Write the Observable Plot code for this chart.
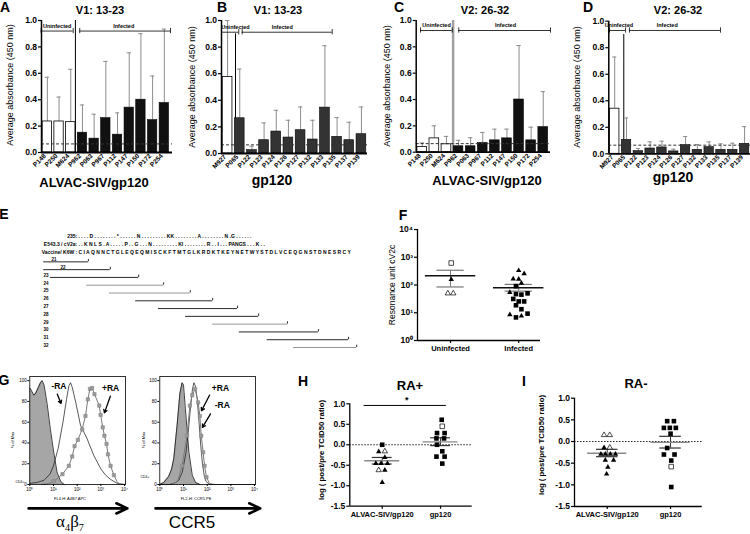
<!DOCTYPE html>
<html><head><meta charset="utf-8">
<script src="https://cdn.jsdelivr.net/npm/d3@7"></script>
<script src="https://cdn.jsdelivr.net/npm/@observablehq/plot@0.6"></script>
<style>
body{margin:0;background:#fff;}
#fig{position:relative;width:750px;height:534px;overflow:hidden;background:#fff;font-family:"Liberation Sans",Arial,sans-serif;}
#fig svg{position:absolute;overflow:visible;}
.lbl{position:absolute;white-space:nowrap;line-height:1;}
</style></head><body><div id="fig"></div>
<script>
// ---------------- DATA ----------------
// Panels A-D (ELISA bars)
const namesA = ["P148","P250","M624","P962","P063","P967","P112","P147","P150","P172","P254"];
const valuesA = [0.235,0.235,0.23,0.15,0.105,0.26,0.135,0.34,0.40,0.245,0.375];
const errA    = [0.57,0.42,0.63,0.36,0.29,0.69,0.30,0.755,0.90,0.58,0.935];
const namesB = ["M927","P065","P122","P123","P124","P126","P127","P132","P133","P135","P137","P139"];
const valuesB = [0.575,0.265,0.025,0.10,0.165,0.12,0.175,0.105,0.345,0.125,0.10,0.145];
const errB    = [1.0,0.635,0.055,0.23,0.325,0.25,0.35,0.25,0.81,0.27,0.235,0.35];
const namesC = ["P148","P250","M624","P962","P063","P967","P112","P147","P150","P172","P254"];
const valuesC = [0.04,0.105,0.06,0.045,0.045,0.07,0.09,0.105,0.40,0.09,0.19];
const errC    = [0.07,0.20,0.12,0.09,0.11,0.15,0.175,0.175,0.81,0.19,0.46];
const namesD = ["M927","P065","P122","P123","P124","P126","P127","P132","P133","P135","P137","P139"];
const valuesD = [0.34,0.105,0.02,0.04,0.048,0.018,0.065,0.03,0.05,0.03,0.03,0.075];
const errD    = [0.73,0.27,0.04,0.09,0.095,0.035,0.13,0.07,0.09,0.075,0.08,0.205];
const cutoff = 0.065;
const yTicksBar = [0,0.2,0.4,0.6,0.8,1.0];
const bracketsA = [{label:"Uninfected",from:-0.53,to:2.21,mid:0.84,level:0.92},{label:"Infected",from:2.77,to:10.53,mid:6.53,level:0.92}];
const bracketsB = [{label:"Uninfected",from:-0.5,to:0.92,mid:0.65,level:0.912},{label:"Infected",from:1.2,to:8.6,mid:4.49,level:0.912}];
const bracketsC = [{label:"Uninfected",from:-0.14,to:2.48,mid:1.18,level:0.924},{label:"Infected",from:3.02,to:10.6,mid:6.88,level:0.924}];
const bracketsD = [{label:"Uninfected",from:-0.44,to:0.92,mid:0.35,level:0.93},{label:"Infected",from:1.25,to:8.96,mid:4.45,level:0.93}];

// Panel E (peptide map)
const eSeqLabels = ["235:","E543.3 / cV2a:","Vaccine/ K6W :"];
const eSeqs = [
 ". . . . D . . . . . . . . * . . . . . . N . . . . . . . . . KK . . . . . . . . A . . . . . . . . N .G . . . . . .",
 ". . K N L S . A . . . . . P . . G . . . N . . . . . . . . . KI . . . . . . . . R . . I . . . PANGS . . . K . .",
 "C I A Q N N C T G L E Q E Q M I S C K F T M T G L K R D K T K E Y N E T W Y S T D L V C E Q G N S T D N E S R C Y"
];
const pepIds   = [21,22,23,24,25,26,27,28,29,30,31,32];
const pepStart = [-8.1,-8.1,-6.5,1.9,7.2,13.3,18.6,24.9,31.2,37.4,43.9,50.0];
const pepEnd   = [2.3,7.4,14.0,19.8,26.0,31.2,37.0,41.9,48.6,55.8,62.8,64.7];

// Panel F (resonance units)
const fCats = ["Uninfected","Infected"];
const fUninfVals = [620,160,50,50];
const fUninfSym  = ["osq","tri","otri","otri"];
const fUninfOff  = [0.01,0.01,-0.04,0.04];
const fInfVals = [333,257,166,162,117,54,8.5,7.6,91,47,45,50,31.5,25.6,25.6,18.6,13.4,9.3,6.8];
const fInfSym  = ["tri","tri","tri","tri","tri","tri","tri","tri","sq","sq","sq","sq","sq","sq","sq","sq","sq","sq","sq"];
const fInfOff  = [0,0.08,-0.08,0,0.04,-0.13,-0.13,0.04,-0.04,-0.04,0.04,0.13,-0.08,0,0.08,-0.04,0.04,0.13,-0.04];
const fMean = [215,80], fSemHi = [340,105], fSemLo = [85,60];
const fTicks = [1,10,100,1000,10000];

// Panel G (flow histograms) [log10 fluorescence, % of max]
const gLeftControl = [[0,93],[0.08,90],[0.17,86],[0.25,88],[0.35,93],[0.45,98],[0.52,100],[0.6,96],[0.73,78],[0.87,53],[1.01,31],[1.15,12],[1.3,3],[1.45,0]];
const gLeftMinus = [[0,1],[0.3,2],[0.6,4],[0.85,10],[1.0,18],[1.2,35],[1.4,60],[1.55,82],[1.65,95],[1.72,98],[1.8,93],[1.95,78],[2.14,57],[2.42,44],[2.7,28],[3.0,15],[3.2,9],[3.4,5],[3.7,1],[4.04,0]];
const gLeftPlus = [[0.5,0],[0.8,1],[1.01,3],[1.38,10],[1.65,18],[1.79,27],[1.89,37],[2.03,43],[2.21,53],[2.35,66],[2.45,82],[2.54,92],[2.63,93],[2.73,87],[2.93,76],[2.99,67],[3.08,55],[3.15,47],[3.24,39],[3.30,29],[3.41,18],[3.55,9],[3.7,2],[3.85,0],[4.04,0]];
const gRightControl = [[0,0],[0.17,2],[0.38,8],[0.5,15],[0.59,25],[0.73,57],[0.85,88],[0.94,98],[1.0,96],[1.08,73],[1.23,31],[1.37,9],[1.51,2],[1.7,0]];
const gRightMinus = [[0,0],[0.4,0],[0.6,1],[0.8,4],[0.95,12],[1.1,30],[1.2,50],[1.3,75],[1.38,92],[1.44,98],[1.5,95],[1.58,82],[1.65,62],[1.72,40],[1.8,20],[1.88,8],[1.95,3],[2.1,0],[4.04,0]];
const gRightPlus = [[0.5,0],[0.75,3],[0.94,18],[1.15,47],[1.27,76],[1.37,86],[1.49,92],[1.62,79],[1.69,66],[1.75,47],[1.83,31],[1.89,18],[1.97,7],[2.1,1],[2.3,0],[4.04,0]];
const gLeftNotes = [{t:"-RA",x:1.23,y:95},{t:"+RA",x:3.41,y:93}];
const gLeftPointers = [{x1:1.16,y1:87,x2:1.32,y2:78},{x1:3.4,y1:85,x2:3.15,y2:69}];
const gRightNotes = [{t:"+RA",x:2.56,y:93},{t:"-RA",x:2.64,y:76}];
const gRightPointers = [{x1:2.1,y1:86,x2:1.76,y2:71},{x1:2.14,y1:68,x2:1.8,y2:55}];
const gYTicks = [0,20,40,60,80,100];
const gXTicks = [0,1,2,3,4];

// Panels H and I (log post/pre TCID50 ratio)
const hiCats = ["ALVAC-SIV/gp120","gp120"];
const hAlvacVals = [0.0,-0.17,-0.16,-0.31,-0.455,-0.455,-0.455,-0.62,-0.62,-0.92];
const hAlvacSym  = ["sq","tri","otri","tri","tri","tri","tri","otri","tri","tri"];
const hAlvacOff  = [0,-0.06,0.045,0.045,-0.11,-0.02,0.09,-0.06,0.045,0];
const hGpVals = [0.61,0.45,0.285,0.285,0.155,0.155,0.0,-0.16,-0.29,-0.29,-0.46];
const hGpSym  = ["sq","osq","sq","sq","sq","sq","sq","sq","sq","sq","sq"];
const hGpOff  = [0.02,0.03,-0.06,0.07,-0.07,0.06,-0.06,0.03,-0.07,0.07,0.03];
const hMean = [-0.39,0.07], hSemHi = [-0.31,0.17], hSemLo = [-0.47,-0.02];
const hSig = [{x1:-0.31,x2:1.10,y:0.96,label:"*",lx:0.42,ly:1.08}];
const iAlvacVals = [0.15,0.15,-0.14,-0.14,-0.29,-0.29,-0.29,-0.29,-0.43,-0.43,-0.59,-0.75];
const iAlvacSym  = ["otri","otri","tri","otri","tri","tri","tri","tri","tri","tri","tri","tri"];
const iAlvacOff  = [-0.05,0.04,-0.05,0.04,-0.1,-0.03,0.05,0.13,-0.03,0.1,0.01,-0.01];
const iGpVals = [0.47,0.47,0.315,0.315,0.315,0.18,-0.15,-0.30,-0.30,-0.44,-0.58,-1.05];
const iGpSym  = ["sq","sq","sq","sq","sq","sq","sq","sq","sq","sq","osq","sq"];
const iGpOff  = [-0.053,0.053,-0.105,-0.011,0.084,0,-0.053,-0.105,0.063,0.011,0.011,0.011];
const iMean = [-0.27,-0.02], iSemHi = [-0.18,0.12], iSemLo = [-0.35,-0.15];
const hiTicks = [-1.5,-1.0,-0.5,0,0.5,1.0];

// ---------------- RENDER ----------------
const FONT = '"Liberation Sans", Arial, sans-serif';
const fig = document.getElementById("fig");
function place(svg, left, top) { svg.style.left = left + "px"; svg.style.top = top + "px"; fig.appendChild(svg); return svg; }
function label(text, x, y, o = {}) {
  const d = document.createElement("div");
  d.className = "lbl";
  if (o.html) d.innerHTML = text; else d.textContent = text;
  Object.assign(d.style, {left: x + "px", top: y + "px", fontSize: (o.size || 9) + "px",
    fontWeight: o.weight || "normal", fontFamily: o.family || FONT,
    transform: `translate(-50%,-50%) rotate(${o.rotate || 0}deg)`});
  fig.appendChild(d);
}
const sup = n => "10" + "⁰¹²³⁴"[n];

function barPanel(c) {
  const rows = c.names.map((n, i) => ({n, i, v: c.values[i], e: c.errs[i]}));
  const open = rows.slice(0, c.nUninf), filled = rows.slice(c.nUninf);
  const ends = c.brackets.flatMap(b => [{x: b.from, y: b.level}, {x: b.to, y: b.level}]);
  const bw = 0.4;
  const svg = Plot.plot({
    width: c.width, height: 195,
    marginLeft: c.mL, marginRight: c.mR, marginTop: c.mT, marginBottom: c.mB,
    x: {domain: c.xDomain, axis: null, label: null},
    y: {domain: [0, 1], label: null},
    style: {fontFamily: FONT, fontWeight: "bold", background: "transparent", overflow: "visible"},
    marks: [
      Plot.ruleX(c.sep, {y1: 0, y2: c.sepTop, stroke: c.sepColor, strokeWidth: c.sepWidth}),
      Plot.ruleX(rows, {x: "i", y1: "v", y2: "e", stroke: "#8c8c8c", strokeWidth: 1}),
      Plot.ruleY(rows, {y: "e", x1: d => d.i - 0.18, x2: d => d.i + 0.18, stroke: "#8c8c8c", strokeWidth: 1}),
      Plot.rect(open, {x1: d => d.i - bw, x2: d => d.i + bw, y1: 0, y2: "v", fill: "#fff", stroke: "#000", strokeWidth: 0.8}),
      Plot.rect(filled, {x1: d => d.i - bw, x2: d => d.i + bw, y1: 0, y2: "v", fill: c.fill, stroke: "#000", strokeWidth: 0.6}),
      Plot.ruleY([cutoff], {stroke: "#333", strokeDasharray: "3,2", strokeWidth: 1}),
      Plot.ruleY(c.brackets, {y: "level", x1: "from", x2: "to", strokeWidth: 0.8}),
      Plot.ruleX(ends, {x: "x", y1: d => d.y - 0.02, y2: d => d.y + 0.02, strokeWidth: 0.8}),
      Plot.text(c.brackets, {x: "mid", y: d => d.level + 0.04, text: "label", fontSize: 5.5, fontWeight: "bold"}),
      Plot.ruleX([c.xDomain[0]], {strokeWidth: 1.5}),
      Plot.ruleY([0], {strokeWidth: 1.8}),
      Plot.axisY({ticks: yTicksBar, tickFormat: d => d.toFixed(1), fontSize: 8.5, fontWeight: "bold", tickSize: 3, tickPadding: 1.5, strokeWidth: 1.2, label: null}),
      Plot.text(rows, {x: "i", text: "n", frameAnchor: "bottom", rotate: -45, textAnchor: "end", dx: -1, dy: 4, fontSize: 6.5, fontWeight: "bold"})
    ]
  });
  place(svg, c.left, 0);
}

barPanel({left: 0, width: 185, mL: 41, mR: 13, mT: 20, mB: 43, xDomain: [-0.5, 10.7],
  names: namesA, values: valuesA, errs: errA, nUninf: 3, fill: "#111",
  sep: [2.4], sepTop: 1.0, sepColor: "#000", sepWidth: 1, brackets: bracketsA});
barPanel({left: 185, width: 185, mL: 36, mR: 3, mT: 20, mB: 42, xDomain: [-0.5, 11.5],
  names: namesB, values: valuesB, errs: errB, nUninf: 1, fill: "#333",
  sep: [0.65], sepTop: 0.9, sepColor: "#000", sepWidth: 1, brackets: bracketsB});
barPanel({left: 370, width: 185, mL: 45.7, mR: 5, mT: 20, mB: 43.3, xDomain: [-0.5, 10.6],
  names: namesC, values: valuesC, errs: errC, nUninf: 3, fill: "#111",
  sep: [2.55], sepTop: 1.0, sepColor: "#a0a0a0", sepWidth: 2.5, brackets: bracketsC});
barPanel({left: 555, width: 195, mL: 53.3, mR: 0, mT: 20.7, mB: 41.7, xDomain: [-0.5, 11.5],
  names: namesD, values: valuesD, errs: errD, nUninf: 1, fill: "#333",
  sep: [0.77], sepTop: 0.9, sepColor: "#000", sepWidth: 1, brackets: bracketsD});

// Panel E
{
  const eRows = eSeqLabels.map((l, i) => ({row: i, label: l, seq: eSeqs[i]}));
  const peps = pepIds.map((id, k) => ({id, row: 3 + k, s: pepStart[k], e: pepEnd[k]}));
  const grayPeps = new Set([24, 25, 29, 32]);
  const labelX = d => d.id === 21 ? d.s + 2.4 : d.id === 22 ? d.s + 4.5 : -7.56;
  const svg = Plot.plot({
    width: 370, height: 130, marginLeft: 0, marginRight: 0, marginTop: 11, marginBottom: 10,
    x: {domain: [-18.14, 67.91], axis: null}, y: {domain: [14, 0], axis: null},
    style: {fontFamily: FONT, fontWeight: "bold", background: "transparent", overflow: "visible"},
    marks: [
      Plot.text(eRows, {x: -0.3, y: "row", text: "label", textAnchor: "end", fontSize: 5, fontWeight: "bold"}),
      Plot.text(eRows, {x: 0, y: "row", text: "seq", textAnchor: "start", fontSize: 5, fontWeight: "bold", ariaLabel: "seq"}),
      Plot.ruleY(peps.filter(d => !grayPeps.has(d.id)), {y: "row", x1: "s", x2: "e", dy: 2, stroke: "#111", strokeWidth: 0.9}),
      Plot.ruleY(peps.filter(d => grayPeps.has(d.id)), {y: "row", x1: "s", x2: "e", dy: 2, stroke: "#8a8a8a", strokeWidth: 0.9}),
      Plot.ruleX(peps, {x: "e", y1: d => d.row - 0.3, y2: "row", dy: 2, stroke: "#111", strokeWidth: 0.9}),
      Plot.text(peps, {x: labelX, y: "row", text: d => String(d.id), fontSize: 4.5, fontWeight: "bold"})
    ]
  });
  svg.querySelectorAll('g[aria-label="seq"] text').forEach(t => { t.setAttribute("textLength", 245); t.setAttribute("lengthAdjust", "spacingAndGlyphs"); });
  place(svg, 0, 225);
}

// Dot panels
function dotPanel(c) {
  const pts = c.groups.flatMap((g, ci) => g.vals.map((v, k) => ({x: ci + g.offs[k], v, sym: g.syms[k]})));
  const stats = c.mean.map((m, ci) => ({ci, m, hi: c.hi[ci], lo: c.lo[ci]}));
  const syms = [["tri", "triangle", "#000"], ["otri", "triangle", "#fff"], ["sq", "square", "#000"], ["osq", "square", "#fff"]];
  const svg = Plot.plot({
    width: c.width, height: c.height,
    marginLeft: c.mL, marginRight: c.mR, marginTop: c.mT, marginBottom: c.mB,
    x: {domain: c.xDomain, label: null},
    y: {type: c.yType || "linear", domain: c.yDomain, label: null},
    style: {fontFamily: FONT, fontWeight: "bold", background: "transparent", overflow: "visible"},
    marks: [
      ...(c.before || []),
      Plot.ruleX(stats, {x: "ci", y1: "lo", y2: "hi", stroke: c.semStroke, strokeWidth: 1}),
      Plot.ruleY(stats, {y: "hi", x1: d => d.ci - c.semHalf, x2: d => d.ci + c.semHalf, stroke: c.semStroke, strokeWidth: 1.2}),
      Plot.ruleY(stats, {y: "lo", x1: d => d.ci - c.semHalf, x2: d => d.ci + c.semHalf, stroke: c.semStroke, strokeWidth: 1.2}),
      Plot.ruleY(stats, {y: "m", x1: d => d.ci - c.meanHalf, x2: d => d.ci + c.meanHalf, stroke: c.meanStroke, strokeWidth: 1.4}),
      ...syms.map(([k, s, f]) => Plot.dot(pts.filter(p => p.sym === k), {x: "x", y: "v", symbol: s, fill: f, stroke: "#000",
        strokeWidth: f === "#fff" ? 0.7 : 0, r: s === "square" ? c.sqR : c.triR})),
      Plot.ruleX([c.xDomain[0]], {strokeWidth: 1.3}),
      Plot.ruleY([c.yDomain[0]], {strokeWidth: 1.3}),
      Plot.axisY({ticks: c.yTicks, tickFormat: c.yFormat, fontSize: c.yFont, fontWeight: "bold", tickSize: 3, tickPadding: 1.5, strokeWidth: 1.2, label: null}),
      Plot.axisX({ticks: [0, 1], tickFormat: i => c.cats[i], fontSize: c.xFont, fontWeight: "bold", tickSize: 3, tickPadding: 2, strokeWidth: 1.2, label: null}),
      ...(c.after || [])
    ]
  });
  place(svg, c.left, c.top);
}

dotPanel({left: 370, top: 200, width: 175, height: 160, mL: 47, mR: 5, mT: 29, mB: 20,
  xDomain: [-0.485, 1.32], yType: "log", yDomain: [1, 10000], yTicks: fTicks,
  yFormat: d => sup(Math.round(Math.log10(d))), yFont: 8.5, xFont: 7.5, cats: fCats,
  groups: [{vals: fUninfVals, syms: fUninfSym, offs: fUninfOff}, {vals: fInfVals, syms: fInfSym, offs: fInfOff}],
  mean: fMean, hi: fSemHi, lo: fSemLo, meanStroke: "#111", semStroke: "#777", meanHalf: 0.37, semHalf: 0.2, sqR: 2.6, triR: 2.0});

dotPanel({left: 290, top: 375, width: 230, height: 159, mL: 59.3, mR: 48.3, mT: 28.3, mB: 28.3,
  xDomain: [-0.556, 1.543], yDomain: [-1.5, 1.0], yTicks: hiTicks, yFormat: d => d.toFixed(1),
  yFont: 8.5, xFont: 7.5, cats: hiCats,
  groups: [{vals: hAlvacVals, syms: hAlvacSym, offs: hAlvacOff}, {vals: hGpVals, syms: hGpSym, offs: hGpOff}],
  mean: hMean, hi: hSemHi, lo: hSemLo, meanStroke: "#8a8a8a", semStroke: "#333", meanHalf: 0.3, semHalf: 0.17, sqR: 2.6, triR: 2.0,
  before: [Plot.ruleY([0], {strokeDasharray: "1.5,1.5", stroke: "#222"})],
  after: [Plot.ruleY(hSig, {y: "y", x1: "x1", x2: "x2", strokeWidth: 1}),
          Plot.text(hSig, {x: "lx", y: "ly", text: "label", fontSize: 9, fontWeight: "bold"})]});

dotPanel({left: 520, top: 375, width: 230, height: 159, mL: 54, mR: 48.3, mT: 22.7, mB: 28,
  xDomain: [-0.517, 1.5], yDomain: [-1.5, 1.0], yTicks: hiTicks, yFormat: d => d.toFixed(1),
  yFont: 8.5, xFont: 7.5, cats: hiCats,
  groups: [{vals: iAlvacVals, syms: iAlvacSym, offs: iAlvacOff}, {vals: iGpVals, syms: iGpSym, offs: iGpOff}],
  mean: iMean, hi: iSemHi, lo: iSemLo, meanStroke: "#8a8a8a", semStroke: "#333", meanHalf: 0.31, semHalf: 0.17, sqR: 2.6, triR: 2.0,
  before: [Plot.ruleY([0], {strokeDasharray: "1.5,1.5", stroke: "#222"})]});

// Panel G histograms
function histPanel(c) {
  const marked = c.plus.slice(c.markFrom, c.markTo);
  const svg = Plot.plot({
    width: 135, height: 159, marginLeft: c.mL, marginRight: c.mR, marginTop: 1, marginBottom: 50,
    x: {domain: [0, 4.04], label: null}, y: {domain: [0, 104], label: null},
    style: {fontFamily: FONT, background: "transparent", overflow: "visible"},
    marks: [
      Plot.areaY(c.control, {x: d => d[0], y: d => d[1], fill: "#a6a6a6"}),
      Plot.line(c.control, {x: d => d[0], y: d => d[1], stroke: "#111", strokeWidth: 0.8}),
      Plot.line(c.minus, {x: d => d[0], y: d => d[1], stroke: "#111", strokeWidth: 0.7}),
      Plot.line(c.plus, {x: d => d[0], y: d => d[1], stroke: "#7a7a7a", strokeWidth: 1}),
      Plot.dot(marked, {x: d => d[0], y: d => d[1], symbol: "square", r: 1.9, fill: "#9a9a9a", stroke: "#808080", strokeWidth: 0.5}),
      Plot.frame({stroke: "#000", strokeWidth: 0.8}),
      Plot.axisY({ticks: gYTicks, fontSize: 4.5, tickSize: 2, tickPadding: 1, label: null}),
      Plot.axisX({ticks: gXTicks, tickFormat: sup, fontSize: 4.5, tickSize: 2, tickPadding: 1, label: null}),
      Plot.text(c.notes, {x: "x", y: "y", text: "t", fontSize: 8.5, fontWeight: "bold"}),
      Plot.arrow(c.pointers, {x1: "x1", y1: "y1", x2: "x2", y2: "y2", strokeWidth: 1.3, headLength: 4}),
      Plot.arrow(c.bigArrow, {x1: "x1", y1: "y", x2: "x2", y2: "y", strokeWidth: 2.6, headLength: 7, headAngle: 50})
    ]
  });
  place(svg, c.left, 375);
}
histPanel({left: 0, mL: 29.3, mR: 10, control: gLeftControl, minus: gLeftMinus, plus: gLeftPlus, markFrom: 2, markTo: 22,
  notes: gLeftNotes, pointers: gLeftPointers, bigArrow: [{x1: -0.05, x2: 4.12, y: -23}]});
histPanel({left: 140, mL: 19.3, mR: 20, control: gRightControl, minus: gRightMinus, plus: gRightPlus, markFrom: 2, markTo: 13,
  notes: gRightNotes, pointers: gRightPointers, bigArrow: [{x1: -0.18, x2: 4.24, y: -23}]});

// ---------------- TEXT LABELS ----------------
const L = 14;
label("A", 5, 7, {size: L, weight: "bold"});
label("B", 222, 7, {size: L, weight: "bold"});
label("C", 399, 7, {size: L, weight: "bold"});
label("D", 588, 7, {size: L, weight: "bold"});
label("E", 4, 214, {size: L, weight: "bold"});
label("F", 403, 215, {size: L, weight: "bold"});
label("G", 4, 380, {size: L, weight: "bold"});
label("H", 303, 381, {size: L, weight: "bold"});
label("I", 524, 381, {size: L, weight: "bold"});

label("V1: 13-23", 100, 10, {size: 11, weight: "bold"});
label("V1: 13-23", 278, 10, {size: 11, weight: "bold"});
label("V2: 26-32", 485, 10, {size: 11, weight: "bold"});
label("V2: 26-32", 678, 10, {size: 11, weight: "bold"});

const yl = "Average absorbance  (450 nm)";
label(yl, 10, 85, {size: 9, rotate: -90});
label(yl, 192, 87, {size: 9, rotate: -90});
label(yl, 387, 86, {size: 9, rotate: -90});
label(yl, 577, 87, {size: 9, rotate: -90});

label("ALVAC-SIV/gp120", 94, 182, {size: 13, weight: "bold"});
label("gp120", 272, 180, {size: 14, weight: "bold"});
label("ALVAC-SIV/gp120", 487, 180, {size: 13, weight: "bold"});
label("gp120", 673, 177, {size: 14, weight: "bold"});

label("Resonance unit cV2c", 392, 285, {size: 8.5, rotate: -90});

label("RA+", 410, 385, {size: 13, weight: "bold"});
label("RA-", 636, 383, {size: 13, weight: "bold"});
label("log ( post/pre TCID50 ratio)", 321.5, 450, {size: 7.8, weight: "bold", rotate: -90});
label("log ( post/pre TCID50 ratio)", 542, 445, {size: 7.8, weight: "bold", rotate: -90});

label("FL4-H: A4B7 APC", 70, 499, {size: 4});
label("FL2-H: CCR5 PE", 196, 499, {size: 4});
label("% of Max", 13, 440, {size: 4, rotate: -90});
label("% of Max", 143.5, 440, {size: 4, rotate: -90});
label("CD4+", 20, 483, {size: 3.5});
label("CD4+", 145, 478, {size: 3.5});
label("α<sub style='font-size:0.6em;line-height:0'>4</sub>β<sub style='font-size:0.6em;line-height:0'>7</sub>", 70, 521, {size: 17, html: true, family: '"Liberation Serif", "DejaVu Serif", serif'});
label("CCR5", 192, 522, {size: 17});
</script></body></html>
